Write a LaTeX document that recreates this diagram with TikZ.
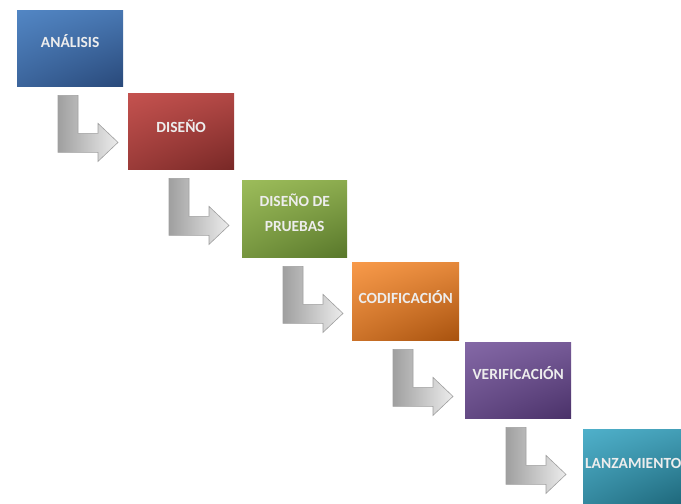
\documentclass[tikz,border=0pt]{standalone}
\usepackage{fontspec}
\setmainfont{Carlito}
\usetikzlibrary{calc,shadings}
\definecolor{blueA}{HTML}{5286C4}\definecolor{blueB}{HTML}{29497A}
\definecolor{redA}{HTML}{C4524F}\definecolor{redB}{HTML}{782826}
\definecolor{greenA}{HTML}{9CBC5A}\definecolor{greenB}{HTML}{58772A}
\definecolor{orangeA}{HTML}{F89A4A}\definecolor{orangeB}{HTML}{A8520E}
\definecolor{purpleA}{HTML}{8468A6}\definecolor{purpleB}{HTML}{4A3169}
\definecolor{tealA}{HTML}{4FB0CA}\definecolor{tealB}{HTML}{1D6679}
\definecolor{txt}{HTML}{EDEDED}
\tikzset{
  stage/.style n args={2}{anchor=north west, inner sep=0pt,
    upper left=#1, upper right=#1!75!#2, lower left=#1!45!#2, lower right=#2},
  stagetext/.style={text=txt, font=\fontsize{15.5}{25}\selectfont\bfseries, align=center},
  lshape/.style={draw=gray!75, line width=0.6pt, left color=gray!75, right color=gray!15}
}
\begin{document}
\begin{tikzpicture}[x=1pt,y=-1pt]
\useasboundingbox (0,0) rectangle (681,504);
\fill[white] (0,0) rectangle (681,504);
\node[stage={blueA}{blueB}, minimum width=106, minimum height=76,
  label={[stagetext, yshift=7, name=t1]center:ANÁLISIS}] (b1) at (17,10) {};
\node[stage={redA}{redB}, minimum width=106, minimum height=76,
  label={[stagetext, yshift=5, name=t2]center:DISEÑO}] (b2) at (128,93) {};
\node[stage={greenA}{greenB}, minimum width=105, minimum height=77,
  label={[stagetext, yshift=6, name=t3]center:DISEÑO DE\\PRUEBAS}] (b3) at (242,180) {};
\node[stage={orangeA}{orangeB}, minimum width=107, minimum height=78,
  label={[stagetext, yshift=4, name=t4]center:CODIFICACIÓN}] (b4) at (352,262) {};
\node[stage={purpleA}{purpleB}, minimum width=106, minimum height=76,
  label={[stagetext, yshift=7, name=t5]center:VERIFICACIÓN}] (b5) at (465,342) {};
\node[stage={tealA}{tealB}, minimum width=102, minimum height=76,
  label={[stagetext, yshift=4, xshift=-1, name=t6]center:LANZAMIENTO}] (b6) at (583,429) {};
\foreach \i in {1,...,5}{
  \draw[lshape] ($(b\i.south west)+(41,9)$) -- ++(20,0) -- ++(0,38) -- ++(20,0)
    -- ++(0,-10) -- ++(20,19) -- ++(-20,19) -- ++(0,-9) -- ++(-40,0) -- cycle;
}
\end{tikzpicture}
\end{document}
